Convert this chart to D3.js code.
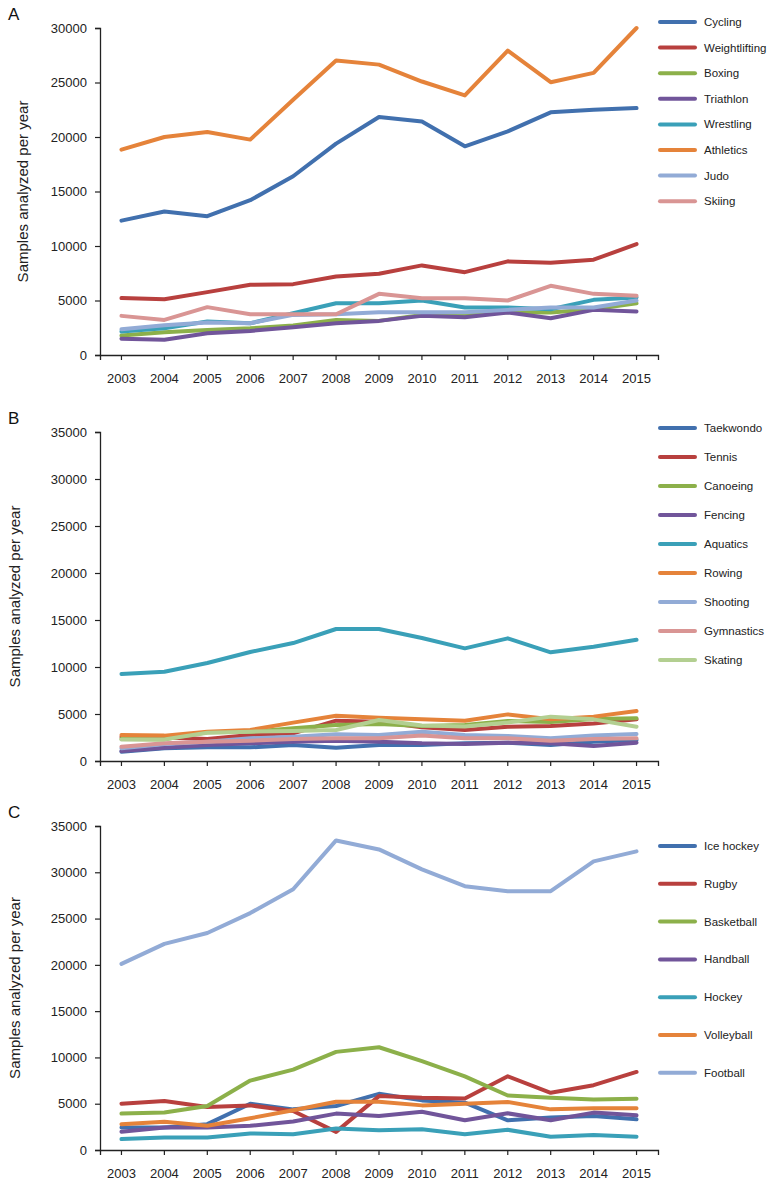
<!DOCTYPE html>
<html><head><meta charset="utf-8">
<script src="https://cdn.jsdelivr.net/npm/d3@7"></script>
<style>body{margin:0;background:#fff}svg{display:block;font-family:"Liberation Sans",Arial,sans-serif}</style>
</head><body><div id="chart"></div>
<script>
const years = ["2003","2004","2005","2006","2007","2008","2009","2010","2011","2012","2013","2014","2015"];

// Panel A
const sportsA = ["Cycling","Weightlifting","Boxing","Triathlon","Wrestling","Athletics","Judo","Skiing"];
const colorsA = ["#4170ae","#b8403e","#8cb04a","#71559a","#3aa0b8","#e5833a","#92abd6","#d99594"];
const cycling = [12330,13160,12730,14200,16400,19390,21830,21430,19150,20520,22260,22500,22650];
const weightlifting = [5220,5120,5770,6440,6500,7200,7450,8220,7600,8590,8470,8740,10180];
const boxing = [1780,2090,2300,2450,2700,3220,3130,3680,3680,3930,3900,4200,4750];
const triathlon = [1500,1400,2000,2210,2550,2910,3130,3590,3470,3900,3370,4140,3990];
const wrestling = [2150,2450,3070,2910,3830,4750,4750,5000,4360,4360,4200,5060,5280];
const athletics = [18840,20000,20460,19760,23420,27010,26640,25090,23810,27930,25030,25880,30000];
const judo = [2360,2730,2980,2910,3680,3740,3930,3930,3930,4140,4360,4360,5000];
const skiing = [3590,3220,4390,3740,3740,3740,5610,5215,5215,5000,6350,5610,5430];
const ticksA = [0,5000,10000,15000,20000,25000,30000];

// Panel B
const sportsB = ["Taekwondo","Tennis","Canoeing","Fencing","Aquatics","Rowing","Shooting","Gymnastics","Skating"];
const colorsB = ["#4170ae","#b8403e","#8cb04a","#71559a","#3aa0b8","#e5833a","#92abd6","#d99594","#b3cf91"];
const taekwondo = [990,1350,1450,1450,1700,1420,1700,1700,1880,1950,1700,2060,2230];
const tennis = [2550,2500,2340,2770,2940,4290,4180,3580,3300,3650,3720,4000,4430];
const canoeing = [2340,2300,3050,3100,3480,3830,3940,3720,3830,4260,4150,4470,4540];
const fencing = [1060,1420,1700,1880,2060,2160,2060,1880,1810,1950,1880,1600,1950];
const aquatics = [9255,9500,10425,11600,12550,14040,14040,13090,11985,13050,11560,12160,12900];
const rowing = [2770,2700,3120,3300,4080,4820,4610,4430,4290,4960,4430,4720,5320];
const shooting = [1350,1810,2060,2410,2590,2840,2770,3120,2770,2660,2410,2700,2870];
const gymnastics = [1520,1880,2060,2160,2340,2410,2410,2700,2410,2410,2160,2340,2410];
const skating = [2300,2300,3010,3120,3190,3300,4360,3780,3680,4100,4720,4430,3650];
const ticksB = [0,5000,10000,15000,20000,25000,30000,35000];

// Panel C
const sportsC = ["Ice hockey","Rugby","Basketball","Handball","Hockey","Volleyball","Football"];
const colorsC = ["#4170ae","#b8403e","#8cb04a","#71559a","#3aa0b8","#e5833a","#92abd6"];
const icehockey = [2430,2430,2790,5000,4390,4750,6070,5360,5110,3210,3500,3680,3320];
const rugby = [5000,5290,4640,4820,4210,1960,5820,5640,5570,7960,6180,7000,8430];
const basketball = [3930,4040,4750,7500,8680,10600,11100,9600,7960,5890,5640,5460,5540];
const handball = [1960,2430,2430,2610,3070,3930,3680,4140,3210,3960,3210,4040,3750];
const hockey = [1180,1360,1360,1790,1710,2320,2140,2250,1710,2180,1430,1610,1430];
const volleyball = [2790,3040,2610,3430,4290,5210,5210,4820,5000,5180,4390,4500,4500];
const football = [20100,22260,23440,25590,28170,33440,32470,30320,28500,27960,27960,31180,32260];
const ticksC = [0,5000,10000,15000,20000,25000,30000,35000];

const W = 772, H = 1186;
const svg = d3.select("#chart").append("svg").attr("width", W).attr("height", H);

const panels = [
  {label:"A", names:sportsA, colors:colorsA, series:[cycling,weightlifting,boxing,triathlon,wrestling,athletics,judo,skiing],
   ticks:ticksA, max:30000, top:28, bottom:355, titleX:22, legendY:22, legendStep:25.6},
  {label:"B", names:sportsB, colors:colorsB, series:[taekwondo,tennis,canoeing,fencing,aquatics,rowing,shooting,gymnastics,skating],
   ticks:ticksB, max:35000, top:432, bottom:761, titleX:14, legendY:428, legendStep:29},
  {label:"C", names:sportsC, colors:colorsC, series:[icehockey,rugby,basketball,handball,hockey,volleyball,football],
   ticks:ticksC, max:35000, top:826, bottom:1150, titleX:14, legendY:846, legendStep:37.8}
];

const left = 100, right = 658;
const x = d3.scaleBand().domain(years).range([left, right]).padding(0);
const cx = d => x(d) + x.bandwidth()/2;

panels.forEach(p => {
  const g = svg.append("g");
  const y = d3.scaleLinear().domain([0, p.max]).range([p.bottom, p.top]);

  g.append("text").attr("x", 8).attr("y", p.top - 8).attr("font-size", 17).attr("fill", "#111").text(p.label);

  // y axis
  const ya = g.append("g").attr("transform", `translate(${left},0)`)
    .call(d3.axisLeft(y).tickValues(p.ticks).tickFormat(d3.format("d")).tickSize(5).tickPadding(8));
  ya.select(".domain").attr("stroke", "#222").attr("stroke-width", 1.3);
  ya.selectAll(".tick line").attr("stroke", "#222").attr("stroke-width", 1.2);
  ya.selectAll("text").attr("font-size", 13).attr("fill", "#222").attr("font-family", "Liberation Sans, Arial, sans-serif");

  // x axis
  const xa = g.append("g").attr("transform", `translate(0,${p.bottom})`)
    .call(d3.axisBottom(x).tickSizeOuter(5).tickSize(5).tickPadding(14));
  xa.select(".domain").attr("stroke", "#222").attr("stroke-width", 1.3);
  xa.selectAll(".tick line").attr("stroke", "#222").attr("stroke-width", 1.2);
  xa.selectAll("text").attr("font-size", 13).attr("fill", "#222").attr("font-family", "Liberation Sans, Arial, sans-serif");

  // y title
  g.append("text").attr("transform", `translate(${p.titleX},${(p.top+p.bottom)/2}) rotate(-90)`)
    .attr("text-anchor", "middle").attr("dominant-baseline", "central")
    .attr("font-size", 15).attr("fill", "#222").text("Samples analyzed per year");

  const line = d3.line().x((d,i) => cx(years[i])).y(d => y(d));
  p.series.forEach((s, i) => {
    g.append("path").datum(s).attr("d", line).attr("fill", "none")
      .attr("stroke", p.colors[i]).attr("stroke-width", 4)
      .attr("stroke-linejoin", "round").attr("stroke-linecap", "round");
  });

  // legend
  const lg = g.append("g");
  p.names.forEach((n, i) => {
    const ly = p.legendY + i * p.legendStep;
    lg.append("line").attr("x1", 660).attr("x2", 695).attr("y1", ly).attr("y2", ly)
      .attr("stroke", p.colors[i]).attr("stroke-width", 4).attr("stroke-linecap", "round");
    lg.append("text").attr("x", 704).attr("y", ly).attr("dominant-baseline", "central")
      .attr("font-size", 11.5).attr("fill", "#222").text(n);
  });
});
</script></body></html>
